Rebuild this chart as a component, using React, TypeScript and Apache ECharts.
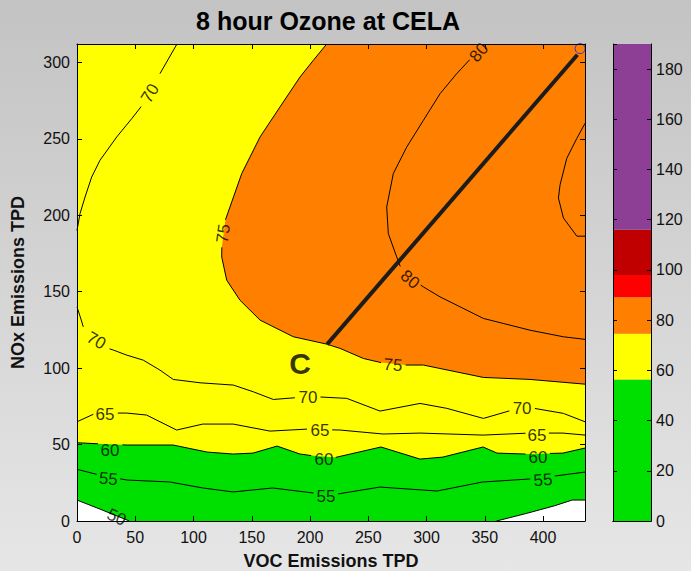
import React, { useEffect, useRef } from 'react';
import * as echarts from 'echarts';

const X_MAX = 436;
const Y_MAX = 312;
const CB_MAX = 190;

const titleText = '8 hour Ozone at CELA';
const xName = 'VOC Emissions TPD';
const yName = 'NOx Emissions TPD';

// contour lines [VOC, NOx]; null = break in the drawn line where a label sits
type Pt = number[] | null;
const contour50Left: Pt[] = [[0, 13.7], [19.7, 7.8], [45, 0]];
const contour50Right: Pt[] = [[360, 0], [386, 5], [410, 10], [425, 13.7], [436, 13.7]];
const contour55: Pt[] = [[0, 33.8], [17, 30.5], null, [37, 27.6], [42.9, 26.8], [79.8, 25.5], [108, 21.6], [134, 19], [168, 21.6], [203, 18.3], null, [224, 17.7], [260, 22.2], [309, 19.6], [348, 25.5], [389, 27.5], null, [410, 29.4], [417, 30.1], [436, 32]];
const contour60: Pt[] = [[0, 51.2], [18, 50.5], null, [39, 49.8], [43, 49.7], [82.4, 49.7], [111.6, 45.1], [133.9, 43.8], [151, 44.4], [171.7, 49], [191.4, 43.8], [201, 42.8], null, [222, 41.6], [260.9, 48.4], [294.4, 40.5], [314, 41.8], [348.5, 48.4], [360.5, 44.4], [385, 43.8], null, [406, 44.2], [417, 44.4], [436, 47.7]];
const contour65: Pt[] = [[0, 64.9], [14, 69.8], null, [35, 70.6], [42.6, 70.6], [59.7, 69.3], [85.5, 59.5], [108, 63.4], [134, 63.4], [165.7, 58.8], [197.4, 60.1], null, [219, 59.6], [225.8, 59.5], [262.7, 56.9], [294.4, 57.5], [348.5, 56.2], [385, 57.4], null, [405, 57.5], [417, 57.5], [436, 56.2]];
const contour70Top: Pt[] = [[85.8, 312], [71.2, 292.6], null, [55, 271], [47, 263.2], [34.1, 251.2], [19.7, 235.9], [12.6, 225], [6.9, 211.9], [2.6, 201.1], [0, 190]];
const contour70Low: Pt[] = [[0, 140], [2.8, 133.5], [5.4, 127], null, [28, 112.6], [31.2, 111.8], [42.7, 108.5], [56.9, 105.2], [71.2, 98.7], [82.6, 92.6], [105.6, 90.4], [134.2, 88.9], [151.4, 84.5], [168.5, 79.5], [187, 80.6], null, [209, 81.1], [231.5, 80.2], [260.1, 71.9], [294.4, 76.9], [317.3, 73.7], [348.8, 67.1], [371, 72], null, [393, 73.6], [417.4, 70.4], [436, 64.9]];
const contour75: Pt[] = [[214.3, 312], [202.8, 301.3], [191.4, 290.4], [174.2, 270.8], [157.1, 251.2], [141.4, 227.3], [131.3, 205.4], [127.4, 197], null, [124.3, 179], [124.2, 172.7], [128.5, 157.5], [139.9, 144.4], [157.1, 131.4], [185.7, 120.5], [214.3, 115.7], [225.8, 112.9], [245.8, 106.3], [261, 103.6], null, [282, 102], [297.3, 102], [348.8, 93.9], [388.8, 92.6], [436, 89.5]];
const contour80: Pt[] = [[337, 301.7], [325.9, 292.6], [311.6, 279.5], [297.3, 262.1], [283, 244.6], [271.5, 227.3], [265.8, 205.4], [267.2, 188], [274.4, 172.7], [277.5, 166.5], null, [295, 154.3], [297.3, 153.1], [311.6, 146.6], [348.8, 132.5], [388.8, 124.8], [417.4, 120.5], [436, 118.8]];
const contour85: Pt[] = [[436, 260.1], [429, 250.3], [420.4, 237.3], [414.6, 219.9], [413.2, 211.2], [417.5, 198.2], [429, 186.3], [436, 186.3]];

const pathLine = [[214.6, 115.5], [429.5, 305]];
const pathEnd = [[431.8, 309]];
const pointC = [[191.4, 103.3]];

const contourLabels = [
  { t: '70', x: 62.7, y: 279.7, r: 58 },
  { t: '75', x: 125.6, y: 188, r: 82 },
  { t: '80', x: 345, y: 306.5, r: 50 },
  { t: '80', x: 285.8, y: 158, r: -40 },
  { t: '70', x: 16.5, y: 118, r: -30 },
  { t: '75', x: 271.2, y: 102, r: -5 },
  { t: '70', x: 198.3, y: 81, r: 0 },
  { t: '70', x: 382, y: 73.5, r: 0 },
  { t: '65', x: 24, y: 69.7, r: 0 },
  { t: '65', x: 208.6, y: 59.3, r: 0 },
  { t: '65', x: 394.8, y: 55.6, r: 0 },
  { t: '60', x: 28.3, y: 46.4, r: 0 },
  { t: '60', x: 212, y: 40, r: 0 },
  { t: '60', x: 395.7, y: 41.8, r: 0 },
  { t: '55', x: 26.9, y: 27.5, r: -5 },
  { t: '55', x: 213.7, y: 16.3, r: 0 },
  { t: '55', x: 400, y: 26.8, r: 5 },
  { t: '50', x: 34, y: 2.4, r: -25 },
];

const colorbarBreaks = [0, 56.4, 74.6, 89.1, 98, 116, 190];
const colorbarColors = ['#00e000', '#ffff00', '#ff8000', '#ff0000', '#c00000', '#8c3f94'];

const FONT = 'Liberation Sans, Arial, sans-serif';

const solid = (pts: Pt[]) => pts.filter((p) => p !== null) as number[][];

function polySeries(pts: number[][], color: string, z: number) {
  return {
    type: 'custom',
    xAxisIndex: 0,
    yAxisIndex: 0,
    silent: true,
    clip: true,
    z,
    data: [[0, 0]],
    renderItem: (_params: any, api: any) => ({
      type: 'polygon',
      shape: { points: pts.map((p) => api.coord(p)) },
      style: { fill: color, stroke: 'none' },
    }),
  };
}

function lineSeries(pts: Pt[], width = 1, color = '#000', z = 4) {
  return {
    type: 'line',
    xAxisIndex: 0,
    yAxisIndex: 0,
    data: pts.map((p) => (p === null ? ['-', '-'] : p)),
    connectNulls: false,
    symbol: 'none',
    silent: true,
    z,
    lineStyle: { color, width },
  };
}

export default function App() {
  const ref = useRef<HTMLDivElement>(null);
  useEffect(() => {
    if (!ref.current) return;
    const chart = echarts.init(ref.current, null, { renderer: 'svg' });
    const mainAxisCommon = {
      min: 0,
      z: 10,
      axisLine: { show: true, onZero: false, lineStyle: { color: '#000', width: 1 } },
      axisTick: { show: true, inside: true, length: 5, lineStyle: { color: '#000' } },
      splitLine: { show: false },
    };
    const tickLabel = { fontSize: 16, color: '#111', fontFamily: FONT };
    const nameStyle = { fontSize: 18, fontWeight: 'bold', color: '#111', fontFamily: FONT };
    const option: any = {
      animation: false,
      backgroundColor: {
        type: 'linear', x: 0, y: 0, x2: 0, y2: 1,
        colorStops: [{ offset: 0, color: '#c3c3c3' }, { offset: 1, color: '#e6e6e6' }],
      },
      graphic: [
        {
          type: 'text', x: 328, y: 21,
          style: { text: titleText, font: `bold 25px ${FONT}`, fill: '#000', align: 'center', verticalAlign: 'middle' },
        },
      ],
      grid: [
        { left: 77, top: 44, width: 508, height: 477, show: true, backgroundColor: '#fff', borderWidth: 0, containLabel: false, outerBoundsMode: 'none' },
        { left: 613, top: 44, width: 38, height: 477, containLabel: false, outerBoundsMode: 'none' },
      ],
      xAxis: [
        {
          ...mainAxisCommon, type: 'value', gridIndex: 0, position: 'bottom', max: X_MAX, interval: 50,
          axisLabel: { ...tickLabel, margin: 8, showMaxLabel: false },
          name: xName, nameLocation: 'middle', nameGap: 31, nameTextStyle: nameStyle,
        },
        {
          ...mainAxisCommon, type: 'value', gridIndex: 0, position: 'top', max: X_MAX, interval: 50,
          axisLabel: { show: false },
        },
        {
          type: 'category', gridIndex: 1, data: ['cb'], position: 'bottom', z: 10,
          axisLine: { show: true, lineStyle: { color: '#000' } }, axisTick: { show: false }, axisLabel: { show: false },
        },
        {
          type: 'category', gridIndex: 1, data: ['cb'], position: 'top', z: 10,
          axisLine: { show: true, lineStyle: { color: '#000' } }, axisTick: { show: false }, axisLabel: { show: false },
        },
      ],
      yAxis: [
        {
          ...mainAxisCommon, type: 'value', gridIndex: 0, position: 'left', max: Y_MAX, interval: 50,
          axisLabel: { ...tickLabel, margin: 7, showMaxLabel: false },
          name: yName, nameLocation: 'middle', nameGap: 50, nameTextStyle: nameStyle,
        },
        {
          ...mainAxisCommon, type: 'value', gridIndex: 0, position: 'right', max: Y_MAX, interval: 50,
          axisLabel: { show: false },
        },
        {
          type: 'value', gridIndex: 1, position: 'right', min: 0, max: CB_MAX, interval: 20, z: 10,
          axisLine: { show: true, lineStyle: { color: '#000' } },
          axisTick: { show: true, inside: true, length: 4, lineStyle: { color: '#000' } },
          axisLabel: { ...tickLabel, margin: 5, showMaxLabel: false },
          splitLine: { show: false },
        },
        {
          type: 'value', gridIndex: 1, position: 'left', min: 0, max: CB_MAX, interval: 20, z: 10,
          axisLine: { show: true, lineStyle: { color: '#000' } },
          axisTick: { show: true, inside: true, length: 4, lineStyle: { color: '#000' } },
          axisLabel: { show: false },
          splitLine: { show: false },
        },
      ],
      series: [
        polySeries([...solid(contour50Left), ...solid(contour50Right), [X_MAX, Y_MAX], [0, Y_MAX]], '#00e000', 1),
        polySeries([...solid(contour60), [X_MAX, Y_MAX], [0, Y_MAX]], '#ffff00', 1),
        polySeries([...solid(contour75), [X_MAX, Y_MAX]], '#ff8000', 1),
        lineSeries(contour50Left),
        lineSeries(contour50Right),
        lineSeries(contour55),
        lineSeries(contour60),
        lineSeries(contour65),
        lineSeries(contour70Top),
        lineSeries(contour70Low),
        lineSeries(contour75),
        lineSeries(contour80),
        lineSeries(contour85),
        lineSeries(pathLine, 4, '#1c1c1c', 6),
        {
          type: 'scatter', xAxisIndex: 0, yAxisIndex: 0, data: pathEnd, symbol: 'circle', symbolSize: 10, z: 7,
          itemStyle: { color: 'rgba(0,0,0,0)', borderColor: '#2b2bff', borderWidth: 1, opacity: 1 },
          silent: true,
        },
        {
          type: 'scatter', xAxisIndex: 0, yAxisIndex: 0, symbolSize: 0, z: 8, silent: true,
          data: contourLabels.map((l) => ({ value: [l.x, l.y], label: { formatter: l.t, rotate: l.r } })),
          label: { show: true, position: 'inside', fontSize: 17, color: '#000', fontFamily: FONT },
        },
        {
          type: 'scatter', xAxisIndex: 0, yAxisIndex: 0, symbolSize: 0, z: 8, silent: true,
          data: pointC,
          label: { show: true, position: 'inside', formatter: 'C', fontSize: 30, fontWeight: 'bold', color: '#000', fontFamily: FONT },
        },
        ...colorbarColors.map((c, i) => ({
          type: 'bar', xAxisIndex: 2, yAxisIndex: 2, stack: 'cb', barWidth: '100%', silent: true,
          data: [colorbarBreaks[i + 1] - colorbarBreaks[i]],
          itemStyle: { color: c },
        })),
      ],
    };
    chart.setOption(option);
    return () => chart.dispose();
  }, []);
  return <div ref={ref} style={{ position: 'fixed', left: 0, top: 0, width: 691, height: 571 }} />;
}
